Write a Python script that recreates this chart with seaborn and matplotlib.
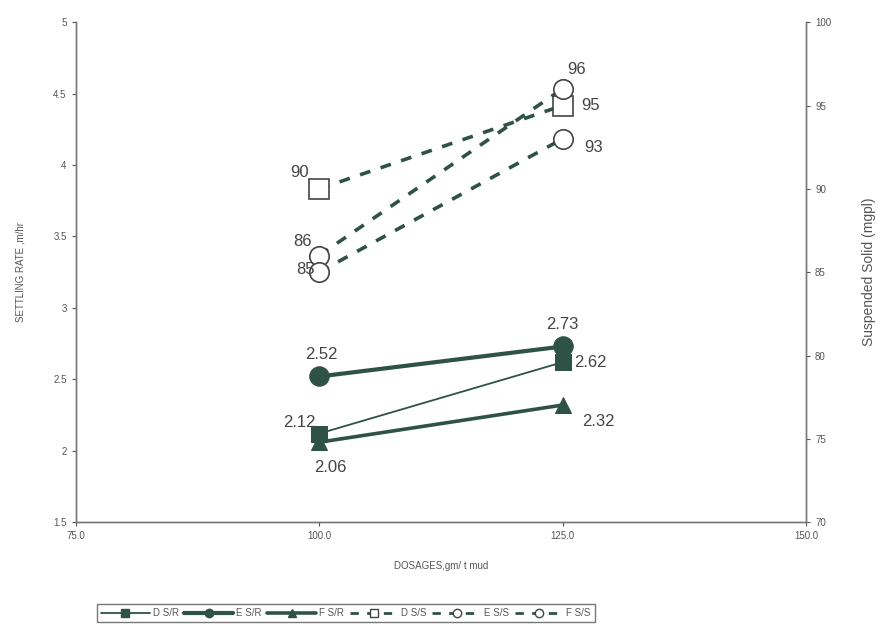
import matplotlib
matplotlib.use("Agg")
import matplotlib.pyplot as plt
import seaborn as sns
import pandas as pd
from matplotlib.lines import Line2D

sns.set_style("white")
plt.rcParams["font.family"] = ["Liberation Sans", "DejaVu Sans"]

# data
dosages = [100, 125]
settling = {
    "D S/R": [2.12, 2.62],
    "E S/R": [2.52, 2.73],
    "F S/R": [2.06, 2.32],
}
solids = {
    "D S/S": [90, 95],
    "E S/S": [86, 96],
    "F S/S": [85, 93],
}

INK = "#2f5247"
GREY = "#555555"

# style per series
sr_style = {
    "D S/R": dict(marker="s", lw=1.3, ms=11),
    "E S/R": dict(marker="o", lw=3.0, ms=14),
    "F S/R": dict(marker="^", lw=2.6, ms=12),
}
ss_style = {
    "D S/S": dict(marker="s", ms=14),
    "E S/S": dict(marker="o", ms=14),
    "F S/S": dict(marker="o", ms=14),
}
# label offsets (points) for each point: (first, second)
sr_off = {
    "D S/R": [(-14, 8), (20, 0)],
    "E S/R": [(2, 16), (0, 16)],
    "F S/R": [(8, -18), (26, -12)],
}
ss_off = {
    "D S/S": [(-14, 12), (20, 0)],
    "E S/S": [(-12, 10), (10, 14)],
    "F S/S": [(-10, 2), (22, -6)],
}

fig, ax = plt.subplots(figsize=(8.79, 6.33), dpi=100)
ax2 = ax.twinx()

for name, vals in settling.items():
    d = pd.DataFrame({"x": dosages, "y": vals})
    st = sr_style[name]
    sns.lineplot(data=d, x="x", y="y", ax=ax, color=INK, lw=st["lw"],
                 marker=st["marker"], markersize=st["ms"],
                 markeredgecolor=INK, markerfacecolor=INK, zorder=3)
    for (x, y), off in zip(zip(dosages, vals), sr_off[name]):
        ax.annotate(f"{y:.2f}", (x, y), xytext=off, textcoords="offset points",
                    ha="center", va="center", fontsize=12, color="#444444")

for name, vals in solids.items():
    d = pd.DataFrame({"x": dosages, "y": vals})
    st = ss_style[name]
    sns.lineplot(data=d, x="x", y="y", ax=ax2, color=INK, lw=2.6,
                 linestyle=(0, (3, 3)), marker=st["marker"],
                 markersize=st["ms"], markerfacecolor="white",
                 markeredgecolor="#444444", markeredgewidth=1.2, zorder=3)
    for (x, y), off in zip(zip(dosages, vals), ss_off[name]):
        ax2.annotate(f"{y}", (x, y), xytext=off, textcoords="offset points",
                     ha="center", va="center", fontsize=12, color="#444444")

ax.set_xlim(75, 150)
ax.set_ylim(1.5, 5)
ax2.set_ylim(70, 100)
ax.set_xticks([75, 100, 125, 150])
ax.set_xticklabels([f"{v:.1f}" for v in [75, 100, 125, 150]])
ax.set_yticks([1.5, 2, 2.5, 3, 3.5, 4, 4.5, 5])
ax.set_yticklabels(["1.5", "2", "2.5", "3", "3.5", "4", "4.5", "5"])
ax2.set_yticks([70, 75, 80, 85, 90, 95, 100])

for a in (ax, ax2):
    a.spines["top"].set_visible(False)
    for s in ("left", "right", "bottom"):
        a.spines[s].set_color("#777777")
        a.spines[s].set_linewidth(1.0)
    a.tick_params(axis="both", labelsize=7, colors=GREY, length=3,
                  direction="out", width=0.8)
    a.set_ylabel("")
    a.set_xlabel("")
ax.tick_params(left=True, bottom=True)
ax2.tick_params(right=True)

ax.set_xlabel("DOSAGES,gm/ t mud", fontsize=7, color=GREY, labelpad=14)
ax.set_ylabel("SETTLING RATE ,m/hr", fontsize=7, color=GREY, labelpad=20)
ax2.set_ylabel("Suspended Solid (mgpl)", fontsize=10, color=GREY, labelpad=22)

handles = []
for name in settling:
    st = sr_style[name]
    handles.append(Line2D([], [], color=INK, lw=st["lw"], marker=st["marker"],
                          markersize=6, label=name))
for name in solids:
    st = ss_style[name]
    handles.append(Line2D([], [], color=INK, lw=2, linestyle=(0, (3, 3)),
                          marker=st["marker"], markersize=6,
                          markerfacecolor="white", markeredgecolor="#444444",
                          label=name))
leg = fig.legend(handles=handles, loc="lower left", bbox_to_anchor=(0.105, 0.01),
                 ncol=6, fontsize=7, frameon=True, fancybox=False,
                 handlelength=5.0, columnspacing=0.6, handletextpad=0.3,
                 borderpad=0.4)
leg.get_frame().set_edgecolor("#555555")
for t in leg.get_texts():
    t.set_color(GREY)

fig.subplots_adjust(left=0.086, right=0.917, top=0.965, bottom=0.175)
fig.savefig("out.png", dpi=100)
